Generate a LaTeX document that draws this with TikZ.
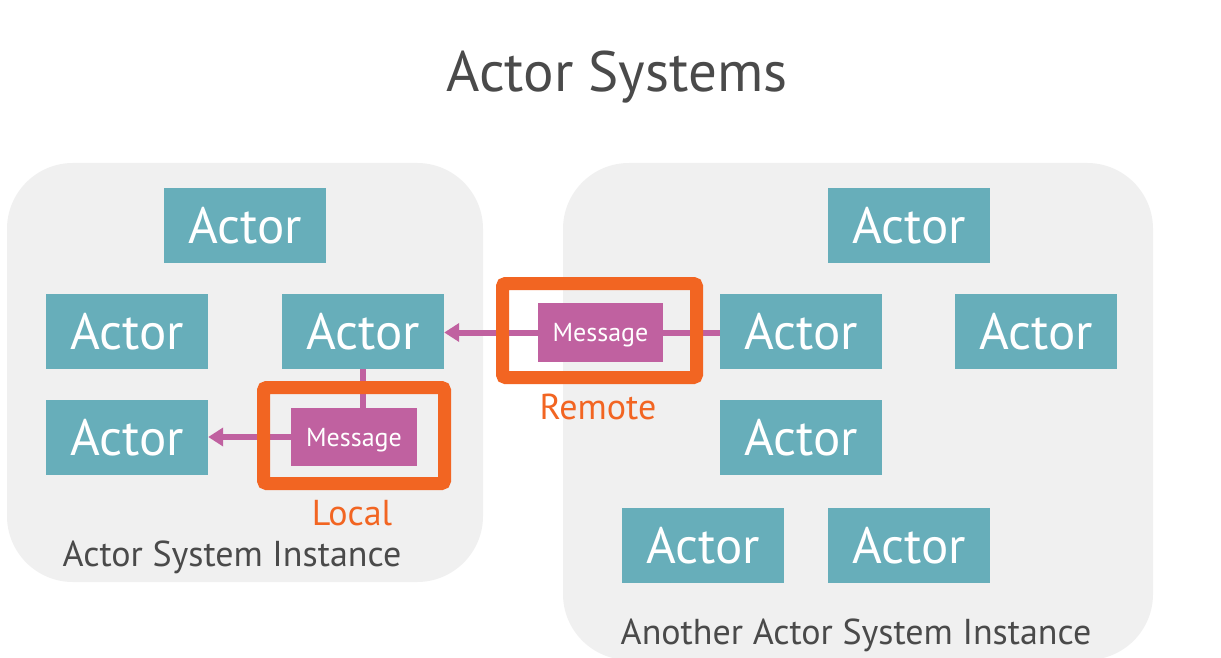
\documentclass[tikz,border=0pt]{standalone}
\usepackage{fontspec}
\setmainfont{PT Sans}
\usetikzlibrary{arrows.meta}
\definecolor{teal}{HTML}{67AEBA}
\definecolor{bgray}{HTML}{F0F0F0}
\definecolor{magen}{HTML}{C061A0}
\definecolor{orng}{HTML}{F26522}
\definecolor{tgray}{HTML}{4A4A4A}
\tikzset{
  actor/.style={fill=teal, text=white, minimum width=162pt, minimum height=75pt, inner sep=0pt, text depth=0pt, font=\fontsize{51}{51}\selectfont},
  msg/.style={fill=magen, text=white, inner sep=0pt, text depth=0pt, font=\fontsize{26}{26}\selectfont},
  frame/.style={draw=orng, line width=13pt, rounded corners=3pt, inner sep=0pt},
  olabel/.style={text=orng, font=\fontsize{36}{36}\selectfont},
  syslabel/.style={text=tgray, font=\fontsize{36}{36}\selectfont},
  system/.style={fill=bgray, rounded corners=66pt},
  link/.style={draw=magen, line width=6pt},
  arr/.style={link, -{Triangle[length=15pt,width=18pt]}}
}
\begin{document}
\begin{tikzpicture}[x=1pt,y=-1pt]
\useasboundingbox (0,0) rectangle (1221,658);
\clip (0,0) rectangle (1221,658);
\fill[white] (0,0) rectangle (1221,658);
% systems
\path[system] (7,163) rectangle (483,582);
\path[system] (563,163) rectangle (1153,660);
% title
\node[text=tgray, font=\fontsize{57}{57}\selectfont] (title) at (617,77) {Actor Systems};
% actors left
\node[actor] (a1) at (245,225.5) {Actor};
\node[actor] (a2) at (127,331.5) {Actor};
\node[actor] (a3) at (363,331.5) {Actor};
\node[actor] (a4) at (127,437.5) {Actor};
% actors right
\node[actor] (a5) at (909,225.5) {Actor};
\node[actor] (a6) at (801,331.5) {Actor};
\node[actor] (a7) at (1036,331.5) {Actor};
\node[actor] (a8) at (801,437.5) {Actor};
\node[actor] (a9) at (703,545.5) {Actor};
\node[actor] (a10) at (909,545.5) {Actor};
% messages
\node[msg, minimum width=126pt, minimum height=58pt] (mL) at (354,437) {Message};
\node[msg, minimum width=125pt, minimum height=59pt] (mR) at (600.5,332.5) {Message};
% connectors
\draw[link] (a3.south) -- (a3.south |- mL.north);
\draw[arr] (mL.west) -- (mL.west -| a4.east);
\draw[link] (a6.west |- mR.east) -- (mR.east);
\draw[arr] (mR.west) -- (mR.west -| a3.east);
% frames
\node[frame, minimum width=181pt, minimum height=96pt] (fL) at (354,435.5) {};
\node[frame, minimum width=194pt, minimum height=94pt] (fR) at (599.5,330.5) {};
\node[olabel] (lL) at (352,513) {Local};
\node[olabel] (lR) at (598,407) {Remote};
% system labels
\node[syslabel] (s1) at (232,557) {Actor System Instance};
\node[syslabel] (s2) at (856,635) {Another Actor System Instance};
\end{tikzpicture}
\end{document}
